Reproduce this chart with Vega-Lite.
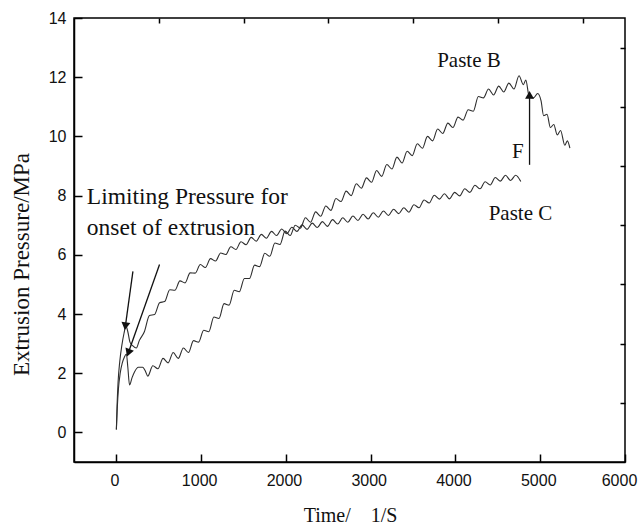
{
"$schema":"https://vega.github.io/schema/vega-lite/v6.json",
"width":551,"height":444,
"autosize":{"type":"none"},
"padding":{"left":74,"top":18,"right":14,"bottom":64},
"config":{"view":{"stroke":"black","strokeWidth":1.5},"axis":{"grid":false}},
"resolve":{"axis":{"x":"independent","y":"independent"}},
"datasets":{
"curves":[
{"s":"B","t":0,"p":0.1},{"s":"B","t":10,"p":0.8},{"s":"B","t":25,"p":1.5},{"s":"B","t":45,"p":2.0},{"s":"B","t":70,"p":2.35},{"s":"B","t":95,"p":2.55},{"s":"B","t":118,"p":2.65},{"s":"B","t":135,"p":2.2},{"s":"B","t":155,"p":1.6},{"s":"B","t":185,"p":1.85},{"s":"B","t":215,"p":2.05},{"s":"B","t":260,"p":2.2},{"s":"B","t":310,"p":2.2},{"s":"B","t":345,"p":2.05},{"s":"B","t":370,"p":1.9},{"s":"B","t":430,"p":2.25},{"s":"B","t":490,"p":2.15},{"s":"B","t":550,"p":2.5},{"s":"B","t":610,"p":2.35},{"s":"B","t":670,"p":2.7},{"s":"B","t":730,"p":2.5},{"s":"B","t":790,"p":2.85},{"s":"B","t":850,"p":2.7},{"s":"B","t":910,"p":3.1},{"s":"B","t":970,"p":3.05},{"s":"B","t":1030,"p":3.45},{"s":"B","t":1090,"p":3.4},{"s":"B","t":1150,"p":3.9},{"s":"B","t":1210,"p":3.85},{"s":"B","t":1270,"p":4.35},{"s":"B","t":1330,"p":4.3},{"s":"B","t":1390,"p":4.8},{"s":"B","t":1450,"p":4.75},{"s":"B","t":1510,"p":5.2},{"s":"B","t":1570,"p":5.2},{"s":"B","t":1630,"p":5.65},{"s":"B","t":1690,"p":5.6},{"s":"B","t":1750,"p":6.05},{"s":"B","t":1810,"p":5.95},{"s":"B","t":1870,"p":6.4},{"s":"B","t":1930,"p":6.35},{"s":"B","t":1990,"p":6.8},{"s":"B","t":2050,"p":6.65},{"s":"B","t":2110,"p":7.0},{"s":"B","t":2170,"p":6.9},{"s":"B","t":2230,"p":7.25},{"s":"B","t":2290,"p":7.1},{"s":"B","t":2350,"p":7.45},{"s":"B","t":2410,"p":7.3},{"s":"B","t":2470,"p":7.65},{"s":"B","t":2530,"p":7.5},{"s":"B","t":2590,"p":7.9},{"s":"B","t":2650,"p":7.8},{"s":"B","t":2710,"p":8.15},{"s":"B","t":2770,"p":8.0},{"s":"B","t":2830,"p":8.4},{"s":"B","t":2890,"p":8.25},{"s":"B","t":2950,"p":8.6},{"s":"B","t":3010,"p":8.45},{"s":"B","t":3070,"p":8.85},{"s":"B","t":3130,"p":8.65},{"s":"B","t":3190,"p":9.05},{"s":"B","t":3250,"p":8.9},{"s":"B","t":3310,"p":9.3},{"s":"B","t":3370,"p":9.1},{"s":"B","t":3430,"p":9.5},{"s":"B","t":3490,"p":9.35},{"s":"B","t":3550,"p":9.75},{"s":"B","t":3610,"p":9.6},{"s":"B","t":3670,"p":10.0},{"s":"B","t":3730,"p":9.85},{"s":"B","t":3790,"p":10.25},{"s":"B","t":3850,"p":10.1},{"s":"B","t":3910,"p":10.45},{"s":"B","t":3970,"p":10.3},{"s":"B","t":4030,"p":10.65},{"s":"B","t":4090,"p":10.55},{"s":"B","t":4150,"p":10.9},{"s":"B","t":4210,"p":10.85},{"s":"B","t":4270,"p":11.35},{"s":"B","t":4330,"p":11.3},{"s":"B","t":4390,"p":11.6},{"s":"B","t":4450,"p":11.4},{"s":"B","t":4510,"p":11.7},{"s":"B","t":4570,"p":11.5},{"s":"B","t":4630,"p":11.8},{"s":"B","t":4690,"p":11.6},{"s":"B","t":4750,"p":12.05},{"s":"B","t":4800,"p":11.75},{"s":"B","t":4830,"p":11.9},{"s":"B","t":4870,"p":11.35},{"s":"B","t":4920,"p":11.3},{"s":"B","t":4970,"p":11.45},{"s":"B","t":5010,"p":11.2},{"s":"B","t":5040,"p":10.7},{"s":"B","t":5080,"p":10.75},{"s":"B","t":5120,"p":10.3},{"s":"B","t":5160,"p":10.4},{"s":"B","t":5200,"p":10.05},{"s":"B","t":5240,"p":10.2},{"s":"B","t":5290,"p":9.7},{"s":"B","t":5320,"p":9.85},{"s":"B","t":5350,"p":9.6},
{"s":"C","t":0,"p":0.1},{"s":"C","t":8,"p":0.9},{"s":"C","t":20,"p":1.7},{"s":"C","t":40,"p":2.4},{"s":"C","t":65,"p":2.95},{"s":"C","t":90,"p":3.35},{"s":"C","t":112,"p":3.6},{"s":"C","t":135,"p":3.4},{"s":"C","t":160,"p":3.05},{"s":"C","t":195,"p":2.92},{"s":"C","t":235,"p":2.85},{"s":"C","t":270,"p":3.1},{"s":"C","t":330,"p":3.4},{"s":"C","t":390,"p":3.95},{"s":"C","t":450,"p":3.98},{"s":"C","t":510,"p":4.38},{"s":"C","t":570,"p":4.42},{"s":"C","t":630,"p":4.82},{"s":"C","t":690,"p":4.8},{"s":"C","t":750,"p":5.12},{"s":"C","t":810,"p":5.05},{"s":"C","t":870,"p":5.39},{"s":"C","t":930,"p":5.38},{"s":"C","t":990,"p":5.67},{"s":"C","t":1050,"p":5.57},{"s":"C","t":1110,"p":5.87},{"s":"C","t":1170,"p":5.79},{"s":"C","t":1230,"p":6.06},{"s":"C","t":1290,"p":6.01},{"s":"C","t":1350,"p":6.27},{"s":"C","t":1410,"p":6.18},{"s":"C","t":1470,"p":6.44},{"s":"C","t":1530,"p":6.34},{"s":"C","t":1590,"p":6.59},{"s":"C","t":1650,"p":6.46},{"s":"C","t":1710,"p":6.69},{"s":"C","t":1770,"p":6.56},{"s":"C","t":1830,"p":6.79},{"s":"C","t":1890,"p":6.65},{"s":"C","t":1950,"p":6.87},{"s":"C","t":2010,"p":6.71},{"s":"C","t":2070,"p":6.93},{"s":"C","t":2130,"p":6.79},{"s":"C","t":2190,"p":7.01},{"s":"C","t":2250,"p":6.86},{"s":"C","t":2310,"p":7.07},{"s":"C","t":2370,"p":6.92},{"s":"C","t":2430,"p":7.12},{"s":"C","t":2490,"p":6.96},{"s":"C","t":2550,"p":7.19},{"s":"C","t":2610,"p":7.04},{"s":"C","t":2670,"p":7.25},{"s":"C","t":2730,"p":7.1},{"s":"C","t":2790,"p":7.31},{"s":"C","t":2850,"p":7.16},{"s":"C","t":2910,"p":7.37},{"s":"C","t":2970,"p":7.21},{"s":"C","t":3030,"p":7.42},{"s":"C","t":3090,"p":7.27},{"s":"C","t":3150,"p":7.48},{"s":"C","t":3210,"p":7.33},{"s":"C","t":3270,"p":7.54},{"s":"C","t":3330,"p":7.39},{"s":"C","t":3390,"p":7.59},{"s":"C","t":3450,"p":7.44},{"s":"C","t":3510,"p":7.69},{"s":"C","t":3570,"p":7.59},{"s":"C","t":3630,"p":7.85},{"s":"C","t":3690,"p":7.75},{"s":"C","t":3750,"p":8.01},{"s":"C","t":3810,"p":7.88},{"s":"C","t":3870,"p":8.06},{"s":"C","t":3930,"p":7.89},{"s":"C","t":3990,"p":8.11},{"s":"C","t":4050,"p":7.99},{"s":"C","t":4110,"p":8.23},{"s":"C","t":4170,"p":8.11},{"s":"C","t":4230,"p":8.35},{"s":"C","t":4290,"p":8.23},{"s":"C","t":4350,"p":8.47},{"s":"C","t":4410,"p":8.36},{"s":"C","t":4470,"p":8.61},{"s":"C","t":4530,"p":8.49},{"s":"C","t":4590,"p":8.69},{"s":"C","t":4650,"p":8.51},{"s":"C","t":4710,"p":8.69},{"s":"C","t":4770,"p":8.48}
],
"arrows":[
{"t":195,"p":5.44,"t2":106,"p2":3.59},
{"t":509,"p":5.67,"t2":141,"p2":2.69},
{"t":4874,"p":9.04,"t2":4874,"p2":11.4}
],
"heads":[
{"id":1,"t":106,"p":3.59},
{"id":2,"t":141,"p":2.69},
{"id":3,"t":4874,"p":11.4}
],
"notes":[
{"g":"big","label":"Limiting Pressure for","t":-349,"p":7.73},
{"g":"big","label":"onset of extrusion","t":-349,"p":6.68},
{"g":"small","label":"Paste B","t":3784,"p":12.36},
{"g":"small","label":"Paste C","t":4392,"p":7.19},
{"g":"small","label":"F","t":4666,"p":9.27}
]
},
"layer":[
{"data":{"name":"curves"},
 "mark":{"type":"line","interpolate":"monotone","color":"#2e2e2e","strokeWidth":1.1},
 "encoding":{
  "x":{"field":"t","type":"quantitative","scale":{"domain":[-500,6000],"nice":false,"zero":false},
   "axis":{"values":[0,1000,2000,3000,4000,5000,6000],"format":"d","title":"Time/\u00a0\u00a0\u00a0\u00a01/S","titleFont":"Liberation Serif","titleFontSize":20,"titleFontWeight":"normal","titleColor":"#111111","titleX":276,"titleY":59,"titleBaseline":"alphabetic","titleAlign":"center","labelFont":"Liberation Sans","labelFontSize":16,"labelColor":"#111111","labelPadding":18,"labelOffset":{"condition":{"test":"datum.value==6000","value":-6},"value":-2},"labelFlush":false,"labelOverlap":false,"tickSize":-8,"tickWidth":1.5,"tickColor":"black","domainColor":"black","domainWidth":1.5}},
  "y":{"field":"p","type":"quantitative","scale":{"domain":[-1,14],"nice":false,"zero":false},
   "axis":{"values":[0,2,4,6,8,10,12,14],"format":"d","title":"Extrusion Pressure/MPa","titleFont":"Liberation Serif","titleFontSize":23,"titleFontWeight":"normal","titleColor":"#111111","titleX":-46,"titleY":246,"titleBaseline":"alphabetic","titleAlign":"center","titleAngle":270,"labelFont":"Liberation Sans","labelFontSize":16,"labelColor":"#111111","labelPadding":16,"labelFlush":false,"labelOverlap":false,"tickSize":-8,"tickWidth":1.5,"tickColor":"black","domainColor":"black","domainWidth":1.5}},
  "detail":{"field":"s"}
 }},
{"data":{"name":"arrows"},
 "mark":{"type":"rule","color":"#111111","strokeWidth":1.3},
 "encoding":{
  "x":{"field":"t","type":"quantitative","axis":{"values":[500,1500,2500,3500,4500,5500],"labels":false,"domain":false,"title":null,"tickSize":-5,"tickWidth":1.5,"tickColor":"black"}},
  "y":{"field":"p","type":"quantitative","axis":{"values":[1,3,5,7,9,11,13],"labels":false,"domain":false,"title":null,"tickSize":-5,"tickWidth":1.5,"tickColor":"black"}},
  "x2":{"field":"t2"},"y2":{"field":"p2"}
 }},
{"data":{"name":"heads"},"transform":[{"filter":"datum.id==1"}],
 "mark":{"type":"point","shape":"triangle-up","filled":true,"color":"#111111","opacity":1,"size":80,"angle":188},
 "encoding":{"x":{"field":"t","type":"quantitative","axis":null},"y":{"field":"p","type":"quantitative","axis":null}}},
{"data":{"name":"heads"},"transform":[{"filter":"datum.id==2"}],
 "mark":{"type":"point","shape":"triangle-up","filled":true,"color":"#111111","opacity":1,"size":80,"angle":200},
 "encoding":{"x":{"field":"t","type":"quantitative","axis":null},"y":{"field":"p","type":"quantitative","axis":null}}},
{"data":{"name":"heads"},"transform":[{"filter":"datum.id==3"}],
 "mark":{"type":"point","shape":"triangle-up","filled":true,"color":"#111111","opacity":1,"size":80,"angle":0},
 "encoding":{"x":{"field":"t","type":"quantitative","axis":null},"y":{"field":"p","type":"quantitative","axis":null}}},
{"data":{"name":"notes"},"transform":[{"filter":"datum.g=='big'"}],
 "mark":{"type":"text","font":"Liberation Serif","fontSize":23.5,"align":"left","baseline":"alphabetic","color":"#111111"},
 "encoding":{"x":{"field":"t","type":"quantitative","axis":null},"y":{"field":"p","type":"quantitative","axis":null},"text":{"field":"label"}}},
{"data":{"name":"notes"},"transform":[{"filter":"datum.g=='small'"}],
 "mark":{"type":"text","font":"Liberation Serif","fontSize":21,"align":"left","baseline":"alphabetic","color":"#111111"},
 "encoding":{"x":{"field":"t","type":"quantitative","axis":null},"y":{"field":"p","type":"quantitative","axis":null},"text":{"field":"label"}}}
]
}
